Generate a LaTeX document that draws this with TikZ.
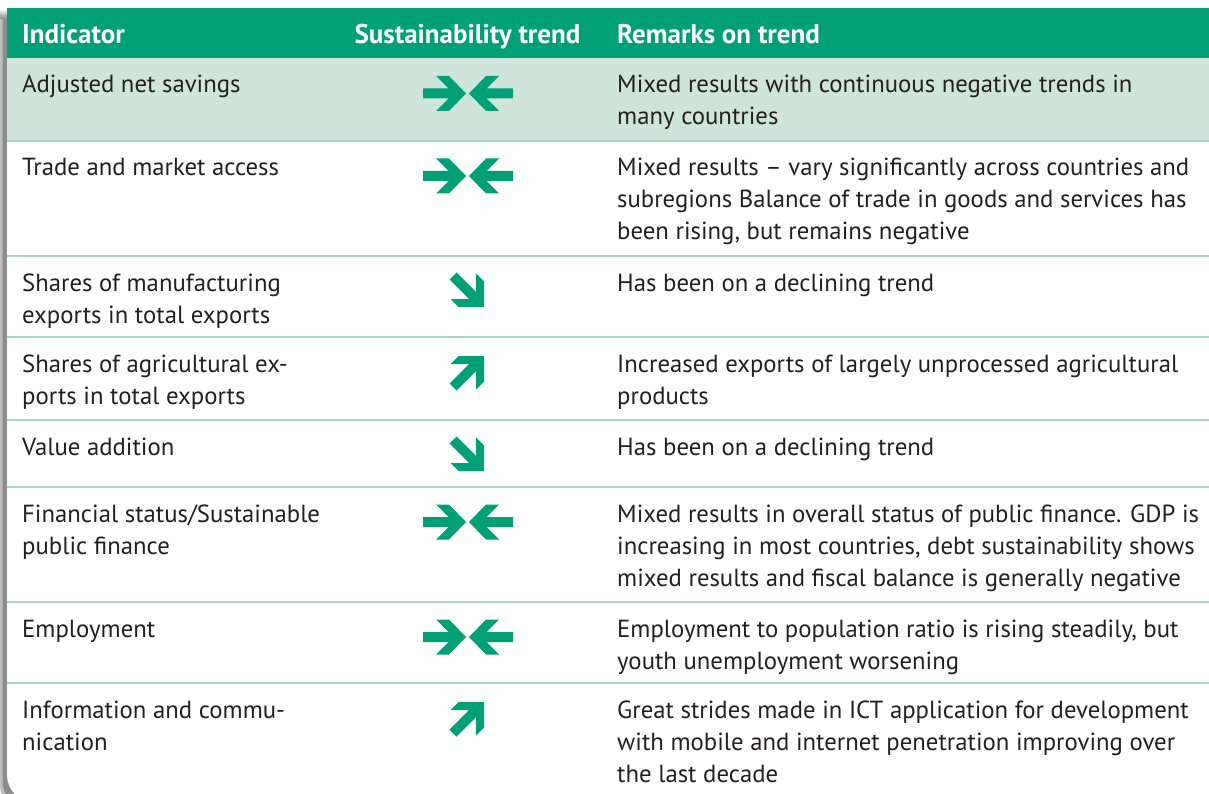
\documentclass[tikz,border=0pt]{standalone}
\usepackage{fontspec}
\setmainfont{PT Sans}
\definecolor{hdrgreen}{HTML}{00A077}
\definecolor{lightrow}{HTML}{CFE5DC}
\definecolor{sepline}{HTML}{A8D6C6}
\definecolor{txt}{HTML}{231F20}
\definecolor{shadowdark}{HTML}{8C8C8C}
\definecolor{shadowlight}{HTML}{BDBDBD}
\tikzset{
  celltext/.style={anchor=base west, inner sep=0pt, text=txt, font=\fontsize{24.75}{32}\selectfont},
  hdrtext/.style={inner sep=0pt, text=white, font=\fontsize{27}{32}\selectfont\bfseries},
  sepstyle/.style={draw=sepline, line width=2pt},
  arrowfill/.style={fill=hdrgreen}
}
\newcommand\convArr[1]{%
  \begin{scope}[shift={(467.5,#1)}]
    \fill[arrowfill] (-44.5,-5) -- (-19,-5) -- (-31.5,-17.5) -- (-18.5,-17.5) -- (-1.5,0) -- (-18.5,17.5) -- (-31.5,17.5) -- (-19,5) -- (-44.5,5) -- cycle;
    \begin{scope}[xscale=-1]
      \fill[arrowfill] (-45.5,-5) -- (-19,-5) -- (-31.5,-17.5) -- (-18.5,-17.5) -- (-1.5,0) -- (-18.5,17.5) -- (-31.5,17.5) -- (-19,5) -- (-45.5,5) -- cycle;
    \end{scope}
  \end{scope}}
\newcommand\diagArr[2]{% #1 = tip y, #2 = 1 for down-right, -1 for up-right
  \begin{scope}[shift={(484,#1)}, yscale=#2]
    \fill[arrowfill] (0,0) -- (0,-25.5) -- (-8,-33.5) -- (-8,-15) -- (-27.5,-34.5) -- (-34.5,-27.5) -- (-15,-8) -- (-33.5,-8) -- (-25.5,0) -- cycle;
  \end{scope}}
\begin{document}
\begin{tikzpicture}[x=1pt,y=-1pt]
\useasboundingbox (0,0) rectangle (1209,794);
\clip (0,0) rectangle (1209,794);
\fill[white] (0,0) rectangle (1209,794);
% shadow
\fill[shadowlight] (0,18) -- (40,18) -- (40,812) [rounded corners=27pt] -- (0,812) [sharp corners] -- cycle;
\fill[shadowdark] (2.5,18) -- (40,18) -- (40,808) [rounded corners=27pt] -- (2.5,808) [sharp corners] -- cycle;
\shade[top color=white, bottom color=shadowdark] (0,9) rectangle (12,18.5);
% table body
\fill[white] (7,8) -- (1230,8) -- (1230,802) [rounded corners=27pt] -- (7,802) [sharp corners] -- cycle;
% header and first row
\fill[hdrgreen] (7,8) rectangle (1209,58);
\fill[lightrow] (7,58) rectangle (1209,141);
% separators
\foreach \yy in {141,256,337,420,487,602,683}
  \draw[sepstyle] (7,\yy) -- (1209,\yy);
% header texts
\node[hdrtext, anchor=base west] (h1) at (22,44) {Indicator};
\node[hdrtext, anchor=base] (h2) at (467.5,44) {Sustainability trend};
\node[hdrtext, anchor=base west] (h3) at (617,44) {Remarks on trend};
% indicator column
\node[celltext] (i1) at (22,93) {\parbox[t]{300pt}{Adjusted net savings}};
\node[celltext] (i2) at (22,176) {\parbox[t]{300pt}{Trade and market access}};
\node[celltext] (i3) at (22,291) {\parbox[t]{300pt}{Shares of manufacturing\\exports in total exports}};
\node[celltext] (i4) at (22,372) {\parbox[t]{300pt}{Shares of agricultural ex-\\ports in total exports}};
\node[celltext] (i5) at (22,455) {\parbox[t]{300pt}{Value addition}};
\node[celltext] (i6) at (22,522) {\parbox[t]{300pt}{Financial status/Sustainable\\public finance}};
\node[celltext] (i7) at (22,637) {\parbox[t]{300pt}{Employment}};
\node[celltext] (i8) at (22,718) {\parbox[t]{300pt}{Information and commu-\\nication}};
% remarks column
\node[celltext] (r1) at (617,93) {\parbox[t]{600pt}{Mixed results with continuous negative trends in\\many countries}};
\node[celltext] (r2) at (617,176) {\parbox[t]{600pt}{Mixed results -- vary significantly across countries and\\subregions Balance of trade in goods and services has\\been rising, but remains negative}};
\node[celltext] (r3) at (617,291) {\parbox[t]{600pt}{Has been on a declining trend}};
\node[celltext] (r4) at (617,372) {\parbox[t]{600pt}{Increased exports of largely unprocessed agricultural\\products}};
\node[celltext] (r5) at (617,455) {\parbox[t]{600pt}{Has been on a declining trend}};
\node[celltext] (r6) at (617,522) {\parbox[t]{600pt}{Mixed results in overall status of public finance. GDP is\\increasing in most countries, debt sustainability shows\\mixed results and fiscal balance is generally negative}};
\node[celltext] (r7) at (617,637) {\parbox[t]{600pt}{Employment to population ratio is rising steadily, but\\youth unemployment worsening}};
\node[celltext] (r8) at (617,718) {\parbox[t]{600pt}{Great strides made in ICT application for development\\with mobile and internet penetration improving over\\the last decade}};
% trend arrows
\convArr{93.5}
\convArr{176}
\diagArr{307}{1}
\diagArr{356}{-1}
\diagArr{471}{1}
\convArr{522}
\convArr{637}
\diagArr{702}{-1}
\end{tikzpicture}
\end{document}
